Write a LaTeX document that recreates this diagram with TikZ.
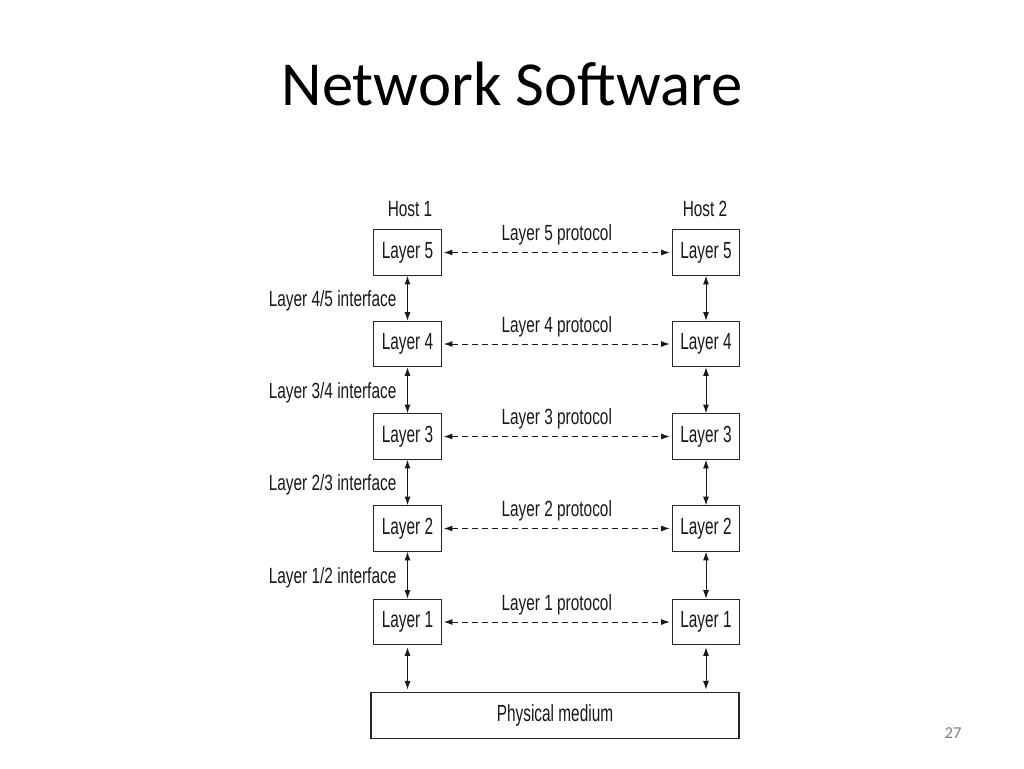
\documentclass[tikz,border=0pt]{standalone}
\usepackage{fontspec}
\setmainfont{Carlito}
\newfontfamily\figfont[FakeStretch=0.7]{Liberation Sans}
\newfontfamily\boxfont[FakeStretch=0.66]{Liberation Sans}
\usetikzlibrary{arrows.meta}
\tikzset{
  figtext/.style={font=\figfont\fontsize{16.5}{18}\selectfont, text=black!90},
  layerbox/.style={font=\boxfont\fontsize{17.5}{19}\selectfont, text=black!90, draw=black!85, line width=0.9pt, minimum width=50.5pt, minimum height=34pt, inner sep=0pt},
  iface/.style={{Latex[length=6.5pt,width=4.5pt]}-{Latex[length=6.5pt,width=4.5pt]}, line width=0.7pt, draw=black!90},
  proto/.style={iface, dash pattern=on 4.5pt off 3pt, shorten <=1.5pt, shorten >=1.5pt}
}
\begin{document}
\begin{tikzpicture}[x=0.75pt,y=-0.75pt]
\fill[white] (0,0) rectangle (1024,768);
\useasboundingbox (0,0) rectangle (1024,768);

\node[anchor=base, font=\fontsize{47}{50}\selectfont] (title) at (512,105) {Network Software};
\node[font=\fontsize{12.5}{14}\selectfont, text=black!50] (pagenum) at (953,733) {27};

\node[figtext] (host1) at (410,209) {Host 1};
\node[figtext] (host2) at (705,209) {Host 2};

\node[layerbox] (l5a) at (407.5,252.5) {Layer 5};
\node[layerbox] (l4a) at (407.5,344) {Layer 4};
\node[layerbox] (l3a) at (407.5,436.5) {Layer 3};
\node[layerbox] (l2a) at (407.5,528.5) {Layer 2};
\node[layerbox] (l1a) at (407.5,622) {Layer 1};

\node[layerbox] (l5b) at (706,252.5) {Layer 5};
\node[layerbox] (l4b) at (706,344) {Layer 4};
\node[layerbox] (l3b) at (706,436.5) {Layer 3};
\node[layerbox] (l2b) at (706,528.5) {Layer 2};
\node[layerbox] (l1b) at (706,622) {Layer 1};

\node[layerbox, minimum width=276pt, minimum height=35pt] (medium) at (555,715.5) {Physical medium};

\draw[proto] (l5a) -- node[figtext, above=5pt, inner sep=0pt] (p5) {Layer 5 protocol} (l5b);
\draw[proto] (l4a) -- node[figtext, above=5pt, inner sep=0pt] (p4) {Layer 4 protocol} (l4b);
\draw[proto] (l3a) -- node[figtext, above=5pt, inner sep=0pt] (p3) {Layer 3 protocol} (l3b);
\draw[proto] (l2a) -- node[figtext, above=5pt, inner sep=0pt] (p2) {Layer 2 protocol} (l2b);
\draw[proto] (l1a) -- node[figtext, above=5pt, inner sep=0pt] (p1) {Layer 1 protocol} (l1b);

\draw[iface] (l5a) -- node[figtext, left=8pt, inner sep=0pt, yshift=-2pt] (i45) {Layer 4/5 interface} (l4a);
\draw[iface] (l4a) -- node[figtext, left=8pt, inner sep=0pt, yshift=-2pt] (i34) {Layer 3/4 interface} (l3a);
\draw[iface] (l3a) -- node[figtext, left=8pt, inner sep=0pt, yshift=-2pt] (i23) {Layer 2/3 interface} (l2a);
\draw[iface] (l2a) -- node[figtext, left=8pt, inner sep=0pt, yshift=-2pt] (i12) {Layer 1/2 interface} (l1a);
\draw[iface, shorten <=1.5pt, shorten >=1.5pt] (l1a.south) -- (l1a.south |- medium.north);

\draw[iface] (l5b) -- (l4b);
\draw[iface] (l4b) -- (l3b);
\draw[iface] (l3b) -- (l2b);
\draw[iface] (l2b) -- (l1b);
\draw[iface, shorten <=1.5pt, shorten >=1.5pt] (l1b.south) -- (l1b.south |- medium.north);
\end{tikzpicture}
\end{document}
